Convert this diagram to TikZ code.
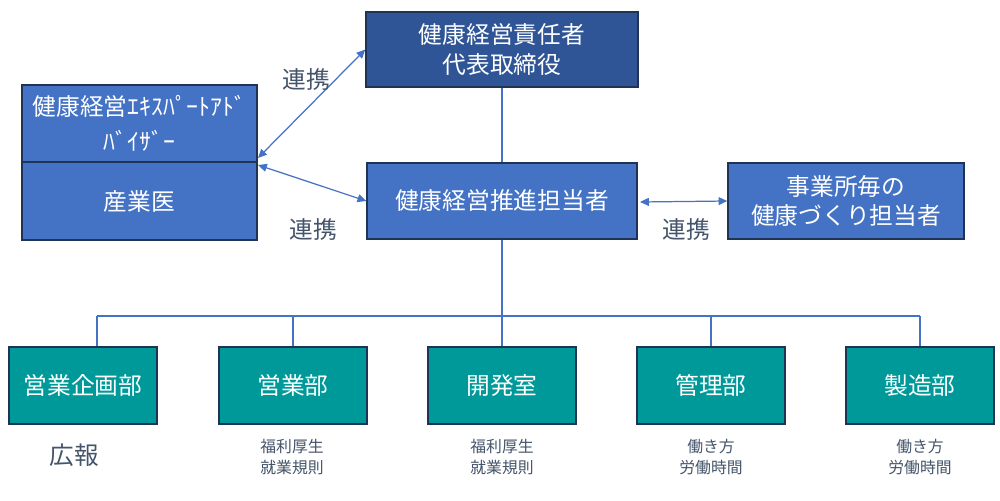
\documentclass[tikz,border=0pt]{standalone}
\usepackage{fontspec}
\setmainfont{Noto Sans CJK JP}
\usetikzlibrary{arrows.meta}
\definecolor{dkblue}{HTML}{2F5597}
\definecolor{mdblue}{HTML}{4472C4}
\definecolor{teal2}{HTML}{009999}
\definecolor{bordc}{HTML}{1F3354}
\definecolor{lblc}{HTML}{44546A}
\tikzset{
  bx/.style={draw=bordc, line width=0.8pt, text=white, align=center, inner sep=0pt,
    font=\fontsize{13.5}{17}\selectfont},
  bluebx/.style={bx, fill=mdblue},
  darkbx/.style={bx, fill=dkblue},
  tealbx/.style={bx, fill=teal2, minimum width=2.96cm, minimum height=1.54cm},
  conn/.style={draw=mdblue, line width=0.7pt},
  dbl/.style={conn, {Triangle[length=5pt,width=4.5pt]}-{Triangle[length=5pt,width=4.5pt]}},
  lbl/.style={text=lblc, font=\fontsize{13.5}{17}\selectfont, inner sep=0pt},
  sml/.style={text=lblc, font=\fontsize{9}{11.5}\selectfont, align=center, inner sep=0pt},
}
\begin{document}
\begin{tikzpicture}[x=0.02cm,y=-0.02cm]
\useasboundingbox (0,0) rectangle (1000,500);
% top boxes
\node[darkbx, minimum width=5.44cm, minimum height=1.5cm] (top) at (502,49.5) {健康経営責任者\\代表取締役};
\node[bluebx, minimum width=5.4cm, minimum height=1.52cm] (mid) at (502,201) {健康経営推進担当者};
\node[bluebx, minimum width=4.72cm, minimum height=1.52cm] (right) at (846,201) {事業所毎の\\健康づくり担当者};
\node[bluebx, minimum width=4.7cm, minimum height=1.54cm, font=\fontsize{13.5}{20}\selectfont] (lu) at (139.5,123.5) {健康経営ｴｷｽﾊﾟｰﾄｱﾄﾞ\\ﾊﾞｲｻﾞｰ};
\node[bluebx, minimum width=4.7cm, minimum height=1.56cm] (ll) at (139.5,201) {産業医};
% bottom boxes
\node[tealbx] (b1) at (83,385.5) {営業企画部};
\node[tealbx] (b2) at (293,385.5) {営業部};
\node[tealbx] (b3) at (502,385.5) {開発室};
\node[tealbx] (b4) at (711,385.5) {管理部};
\node[tealbx] (b5) at (920,385.5) {製造部};
% tree connectors
\coordinate (j) at (502,316);
\coordinate (d1) at (97,316);
\coordinate (d5) at (920,316);
\draw[conn] (top.south) -- (mid.north);
\draw[conn] (mid.south) -- (j);
\draw[conn] (d1) -- (d5);
\draw[conn] (d1) -- (d1 |- b1.north);
\draw[conn] (b2.north |- j) -- (b2.north);
\draw[conn] (b3.north |- j) -- (b3.north);
\draw[conn] (b4.north |- j) -- (b4.north);
\draw[conn] (d5) -- (b5.north);
% cooperation arrows
\coordinate (a1) at (258,158);
\coordinate (a2) at (258,165);
\coordinate (a3) at (640,202);
\draw[dbl] (a1) -- (top.west);
\draw[dbl] (a2) -- (mid.west);
\draw[dbl] (a3) -- (right.west);
% labels
\node[lbl] (c1) at (306,80) {連携};
\node[lbl] (c2) at (313,230) {連携};
\node[lbl] (c3) at (686,230) {連携};
\node[lbl, font=\fontsize{14}{17}\selectfont] (l1) at (74,455) {広報};
\node[sml] (l2) at (292,457) {福利厚生\\就業規則};
\node[sml] (l3) at (502,457) {福利厚生\\就業規則};
\node[sml] (l4) at (711,457) {働き方\\労働時間};
\node[sml] (l5) at (920,457) {働き方\\労働時間};
\end{tikzpicture}
\end{document}
